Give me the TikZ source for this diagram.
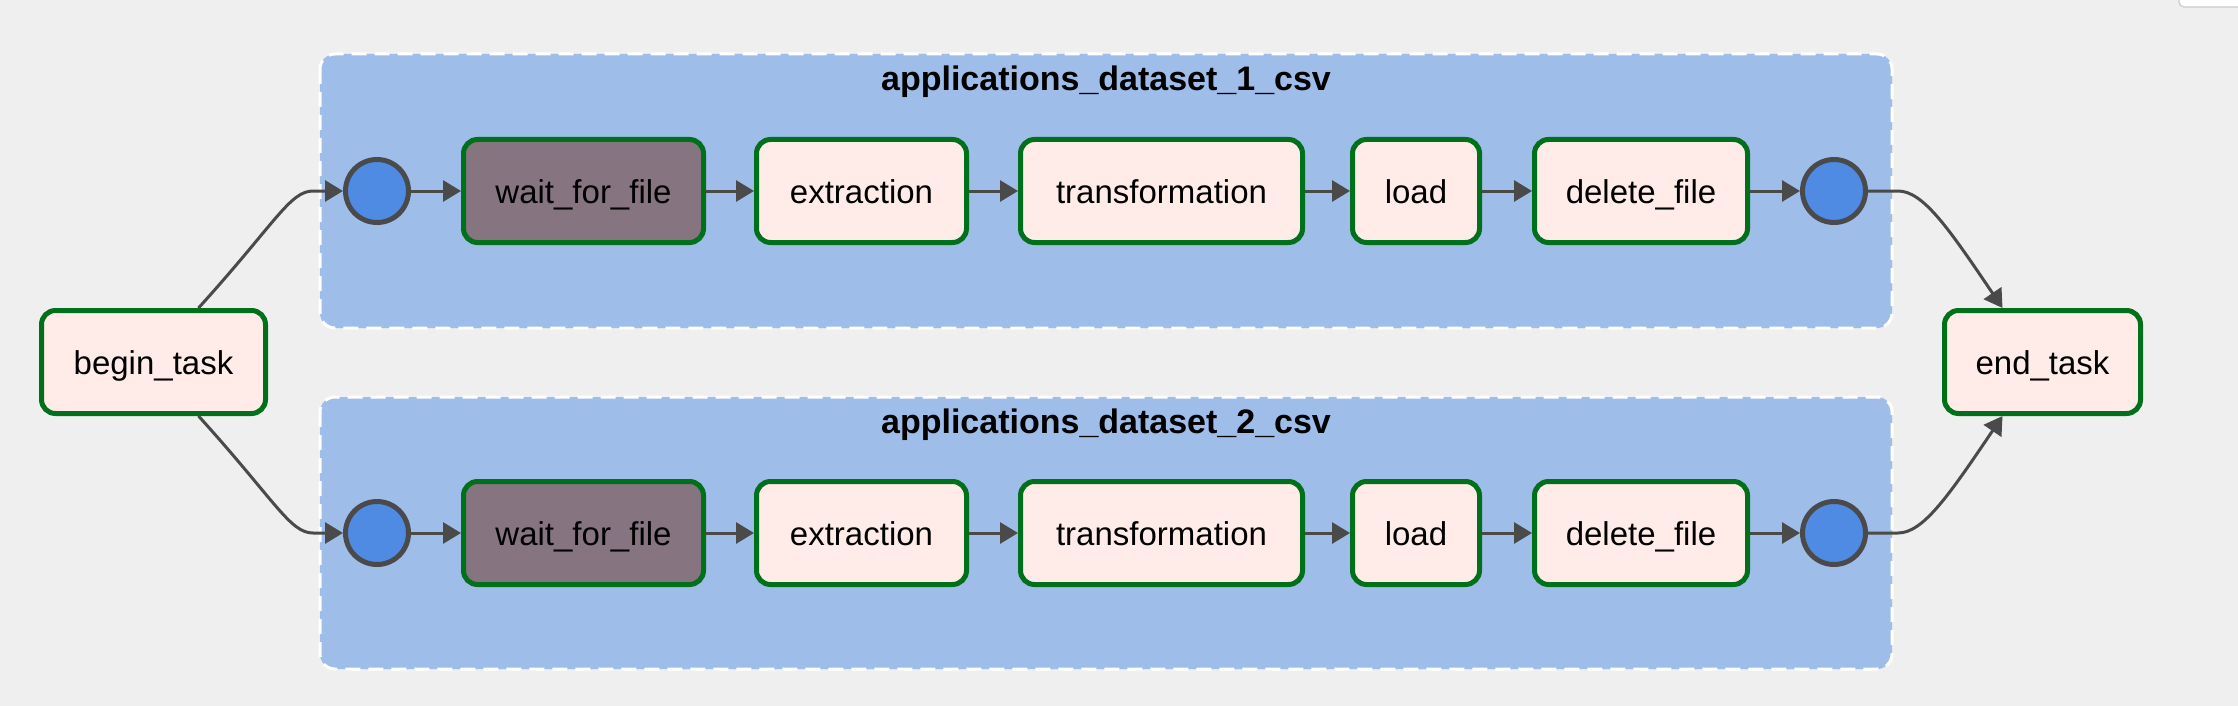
\documentclass[tikz,border=0pt]{standalone}
\usepackage{fontspec}
\setmainfont{Liberation Sans}
\usetikzlibrary{arrows.meta,calc}
\definecolor{bg}{HTML}{EFEFEF}
\definecolor{grp}{HTML}{9EBDE9}
\definecolor{tgreen}{HTML}{00701A}
\definecolor{tfill}{HTML}{FFECE8}
\definecolor{wfill}{HTML}{867580}
\definecolor{cfill}{HTML}{4F8BE3}
\definecolor{edgec}{HTML}{4A4A4A}
\begin{document}
\begin{tikzpicture}[x=1pt,y=-1pt,
  task/.style={draw=tgreen, fill=tfill, line width=5pt, rounded corners=14pt,
    minimum height=103pt, inner sep=0pt, font=\fontsize{33}{40}\selectfont,
    text height=25pt, text depth=0pt},
  waitbox/.style={task, fill=wfill},
  dot/.style={circle, draw=edgec, fill=cfill, line width=5pt, minimum size=63pt, inner sep=0pt},
  grpbox/.style={fill=grp, draw=white, line width=3pt, dash pattern=on 15pt off 8pt, rounded corners=15pt},
  grptitle/.style={font=\bfseries\fontsize{34}{40}\selectfont, anchor=base, inner sep=0pt},
  flow/.style={draw=edgec, line width=3pt, -{Triangle[length=18pt,width=21pt]}}
]
\useasboundingbox (0,0) rectangle (2238,706);
\fill[bg] (0,0) rectangle (2238,706);
\begin{scope}
\clip (0,0) rectangle (2238,706);
\draw[draw=black!20, fill=white, rounded corners=5pt, line width=1.2pt] (2179,-12) rectangle (2260,7);
\end{scope}

% groups
\path[grpbox] (320,54) rectangle (1892,328);
\path[grpbox] (320,397) rectangle (1892,669);
\node[grptitle] (g1) at (1106,91) {applications\_dataset\_1\_csv};
\node[grptitle] (g2) at (1106,433) {applications\_dataset\_2\_csv};

% outer tasks
\node[task, minimum width=224pt] (begin) at (153.5,362) {begin\_task};
\node[task, minimum width=196pt] (end) at (2042.5,362) {end\_task};

% row 1
\node[dot] (a1) at (377,191) {};
\node[waitbox, minimum width=240pt] (w1) at (583.5,191) {wait\_for\_file};
\node[task, minimum width=210pt] (x1) at (861.5,191) {extraction};
\node[task, minimum width=282pt] (t1) at (1161.5,191) {transformation};
\node[task, minimum width=127pt] (l1) at (1416,191) {load};
\node[task, minimum width=213pt] (d1) at (1641,191) {delete\_file};
\node[dot] (b1) at (1834,191) {};

% row 2
\node[dot] (a2) at (377,533) {};
\node[waitbox, minimum width=240pt] (w2) at (583.5,533) {wait\_for\_file};
\node[task, minimum width=210pt] (x2) at (861.5,533) {extraction};
\node[task, minimum width=282pt] (t2) at (1161.5,533) {transformation};
\node[task, minimum width=127pt] (l2) at (1416,533) {load};
\node[task, minimum width=213pt] (d2) at (1641,533) {delete\_file};
\node[dot] (b2) at (1834,533) {};

% chain edges
\foreach \r in {1,2}{
  \draw[flow] (a\r) -- (w\r);
  \draw[flow] (w\r) -- (x\r);
  \draw[flow] (x\r) -- (t\r);
  \draw[flow] (t\r) -- (l\r);
  \draw[flow] (l\r) -- (d\r);
  \draw[flow] (d\r) -- (b\r);
}

% fan out / fan in
\draw[flow] ([xshift=45pt]begin.north) .. controls +(77,-85) and +(-23,0) .. ([xshift=-30pt]a1.west) -- (a1.west);
\draw[flow] ([xshift=45pt]begin.south) .. controls +(77,85) and +(-23,0) .. ([xshift=-30pt]a2.west) -- (a2.west);
\draw[flow] (b1.east) -- ([xshift=30pt]b1.east) .. controls +(25,0) and +(-54,-80) .. ([xshift=-40pt]end.north);
\draw[flow] (b2.east) -- ([xshift=30pt]b2.east) .. controls +(25,0) and +(-54,80) .. ([xshift=-40pt]end.south);
\end{tikzpicture}
\end{document}
